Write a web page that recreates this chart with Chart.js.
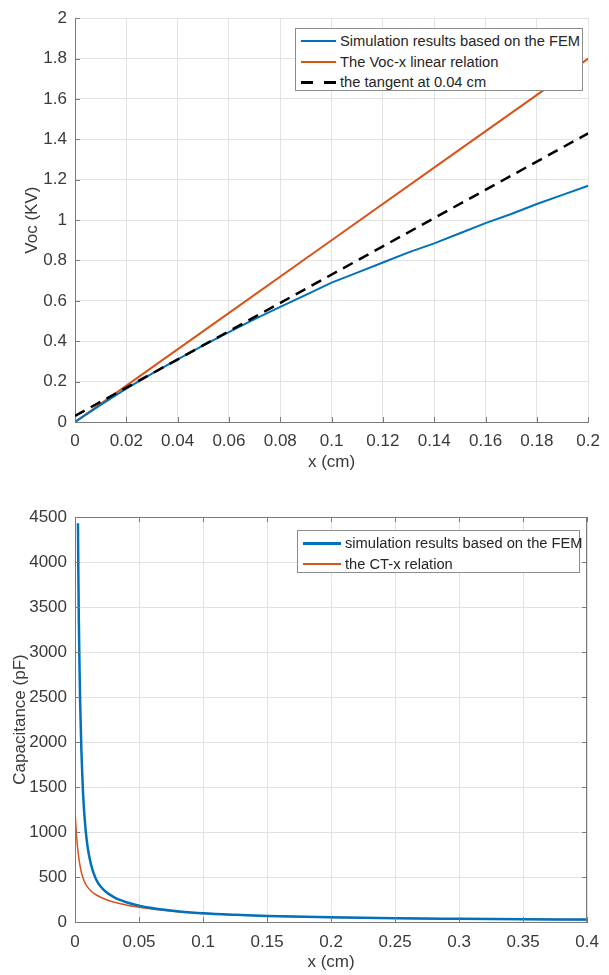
<!DOCTYPE html>
<html lang="en">
<head>
<meta charset="UTF-8">
<title>Voc and capacitance versus x</title>
<script src="https://cdn.jsdelivr.net/npm/chart.js@4.4.0/dist/chart.umd.min.js"></script>
<style>
    body {
        margin: 0;
        background: #fff;
        font-family: "Liberation Sans", Arial, sans-serif;
    }
    .wrap {
        position: relative;
        width: 609px;
        height: 975px;
    }
    canvas {
        position: absolute;
        left: 0;
    }
    #vocChart { top: 0; }
    #capChart { top: 490px; }
    .legend {
        position: absolute;
        box-sizing: border-box;
        background: #fff;
        border: 1px solid #8c8c8c;
        font-size: 14.7px;
        color: #262626;
        padding-top: 2px;
    }
    .legend .row {
        display: flex;
        align-items: center;
        height: 20.5px;
        white-space: nowrap;
    }
    .legend .swatch {
        flex: none;
        height: 2.5px;
        margin-right: 4px;
    }
    #vocLegend { left: 295px; top: 28px; width: 288px; height: 63px; }
    #capLegend { left: 297px; top: 530px; width: 283px; height: 43px; }
</style>
</head>
<body>
<div class="wrap">
    <canvas id="vocChart" width="609" height="480"></canvas>
    <canvas id="capChart" width="609" height="485"></canvas>
    <div id="vocLegend" class="legend"></div>
    <div id="capLegend" class="legend"></div>
</div>

<script>
    // ---- données : Voc en fonction de x ----
    const femX = [0, 0.01, 0.02, 0.03, 0.04, 0.05, 0.06, 0.07, 0.08, 0.09, 0.1,
                  0.11, 0.12, 0.13, 0.14, 0.15, 0.16, 0.17, 0.18, 0.19, 0.2];
    const femVoc = [0, 0.085, 0.165, 0.24, 0.31, 0.38, 0.445, 0.51, 0.57, 0.63, 0.69,
                    0.74, 0.79, 0.84, 0.885, 0.935, 0.985, 1.03, 1.08, 1.125, 1.17];
    const linX = [0, 0.05, 0.1, 0.15, 0.2];
    const linVoc = [0, 0.45, 0.9, 1.35, 1.8];
    const tanX = [0, 0.2];
    const tanVoc = [0.03, 1.43];

    // ---- données : capacité en fonction de x ----
    const capFemX = [0.0023, 0.0026, 0.003, 0.0035, 0.004, 0.005, 0.006, 0.007, 0.008, 0.009,
                     0.01, 0.012, 0.014, 0.016, 0.018, 0.02, 0.025, 0.03, 0.035, 0.04,
                     0.05, 0.06, 0.07, 0.08, 0.1, 0.125, 0.15, 0.2, 0.25, 0.3, 0.35, 0.4];
    const capFem = [4430, 3900, 3350, 2850, 2450, 1900, 1520, 1260, 1070, 930,
                    820, 670, 565, 490, 435, 395, 325, 280, 245, 220,
                    182, 155, 135, 120, 97, 80, 68, 52, 42, 36, 31, 27];
    const ctX = [0, 0.001, 0.002, 0.003, 0.004, 0.005, 0.0065, 0.008, 0.01, 0.0125,
                 0.015, 0.02, 0.025, 0.03, 0.04, 0.05, 0.06, 0.08, 0.1, 0.125,
                 0.15, 0.2, 0.25, 0.3, 0.35, 0.4];
    const ctCap = [1230, 1000, 830, 710, 620, 550, 480, 430, 385, 345,
                   315, 275, 245, 222, 188, 164, 144, 114, 95, 78,
                   66, 51, 41, 35, 30, 26];

    const BLUE = '#0072BD';
    const ORANGE = '#D95319';
    const AXIS = '#7a7a7a';
    const GRID = '#e2e2e2';
    const TEXT = '#3a3a3a';
    const FONT = '"Liberation Sans", Arial, sans-serif';

    const pts = (xs, ys) => xs.map((x, i) => ({x: x, y: ys[i]}));
    const fmt = v => String(+v.toFixed(4));

    // ticks vers l'intérieur (style MATLAB) + cadre optionnel
    const inwardTicks = {
        id: 'inwardTicks',
        afterDraw(chart, args, opts) {
            const {ctx, chartArea: a, scales} = chart;
            const len = 5;
            ctx.save();
            ctx.strokeStyle = AXIS;
            ctx.lineWidth = 1;
            ctx.beginPath();
            scales.x.ticks.forEach(t => {
                const px = Math.round(scales.x.getPixelForValue(t.value)) + 0.5;
                ctx.moveTo(px, a.bottom); ctx.lineTo(px, a.bottom - len);
                if (opts.box) { ctx.moveTo(px, a.top); ctx.lineTo(px, a.top + len); }
            });
            scales.y.ticks.forEach(t => {
                const py = Math.round(scales.y.getPixelForValue(t.value)) + 0.5;
                ctx.moveTo(a.left, py); ctx.lineTo(a.left + len, py);
                if (opts.box) { ctx.moveTo(a.right, py); ctx.lineTo(a.right - len, py); }
            });
            if (opts.box) {
                ctx.moveTo(a.left, Math.round(a.top) + 0.5);
                ctx.lineTo(a.right, Math.round(a.top) + 0.5);
                ctx.moveTo(Math.round(a.right) - 0.5, a.top);
                ctx.lineTo(Math.round(a.right) - 0.5, a.bottom);
            }
            ctx.stroke();
            ctx.restore();
        }
    };

    function makeChart(id, cfg) {
        return new Chart(document.getElementById(id), {
            type: 'scatter',
            data: {datasets: cfg.datasets},
            options: {
                responsive: false,
                animation: false,
                devicePixelRatio: 1,
                layout: {padding: {top: cfg.padTop, right: 12, left: 0, bottom: 0}},
                elements: {point: {radius: 0, hoverRadius: 0}},
                plugins: {
                    legend: {display: false},
                    tooltip: {enabled: false},
                    inwardTicks: {box: cfg.box}
                },
                scales: {
                    x: {
                        type: 'linear',
                        min: cfg.xMin, max: cfg.xMax,
                        afterFit: s => { s.height = cfg.xHeight; },
                        ticks: {stepSize: cfg.xStep, padding: cfg.xPad, color: TEXT,
                                font: {family: FONT, size: 17}, callback: fmt, maxRotation: 0},
                        grid: {color: GRID, drawTicks: false},
                        border: {color: AXIS},
                        title: {display: true, text: 'x (cm)', color: TEXT,
                                font: {family: FONT, size: 17}, padding: {top: 0, bottom: cfg.xTitlePad}}
                    },
                    y: {
                        type: 'linear',
                        min: cfg.yMin, max: cfg.yMax,
                        afterFit: s => { s.width = 75; },
                        ticks: {stepSize: cfg.yStep, padding: 8, color: TEXT,
                                font: {family: FONT, size: 17}, callback: fmt},
                        grid: {color: GRID, drawTicks: false},
                        border: {color: AXIS},
                        title: {display: true, text: cfg.yTitle, color: TEXT,
                                font: {family: FONT, size: 17}, padding: {top: cfg.yTitlePad, bottom: 0}}
                    }
                }
            },
            plugins: [inwardTicks]
        });
    }

    const vocChart = makeChart('vocChart', {
        padTop: 12, box: false,
        xMin: 0, xMax: 0.2, xStep: 0.02, xHeight: 58, xPad: 9, xTitlePad: 7,
        yMin: 0, yMax: 2, yStep: 0.2, yTitle: 'Voc (KV)', yTitlePad: 22,
        datasets: [
            {label: 'Simulation results based on the FEM', data: pts(femX, femVoc),
             showLine: true, borderColor: BLUE, borderWidth: 2, order: 1},
            {label: 'The Voc-x linear relation', data: pts(linX, linVoc),
             showLine: true, borderColor: ORANGE, borderWidth: 2, order: 2},
            {label: 'the tangent at 0.04 cm', data: pts(tanX, tanVoc),
             showLine: true, borderColor: '#000', borderWidth: 2.5, borderDash: [11, 7], order: 0}
        ]
    });

    const capChart = makeChart('capChart', {
        padTop: 27, box: true,
        xMin: 0, xMax: 0.4, xStep: 0.05, xHeight: 53, xPad: 10, xTitlePad: 2,
        yMin: 0, yMax: 4500, yStep: 500, yTitle: 'Capacitance (pF)', yTitlePad: 10,
        datasets: [
            {label: 'simulation results based on the FEM', data: pts(capFemX, capFem),
             showLine: true, borderColor: BLUE, borderWidth: 2.5,
             cubicInterpolationMode: 'monotone', order: 0},
            {label: 'the CT-x relation', data: pts(ctX, ctCap),
             showLine: true, borderColor: ORANGE, borderWidth: 1.5,
             cubicInterpolationMode: 'monotone', order: 1}
        ]
    });

    // légende HTML placée dans la zone du graphique
    function buildLegend(chart, id, swatchW) {
        const box = document.getElementById(id);
        chart.data.datasets.forEach(ds => {
            const row = document.createElement('div');
            row.className = 'row';
            const sw = document.createElement('span');
            sw.className = 'swatch';
            sw.style.width = swatchW + 'px';
            sw.style.marginLeft = '5px';
            if (ds.borderDash) {
                sw.style.background = 'linear-gradient(to right, ' + ds.borderColor + ' 0 12px, transparent 12px 23px, ' +
                    ds.borderColor + ' 23px ' + swatchW + 'px)';
                sw.style.height = '3px';
            } else {
                sw.style.background = ds.borderColor;
                sw.style.height = ds.borderWidth + 'px';
            }
            const txt = document.createElement('span');
            txt.textContent = ds.label;
            row.appendChild(sw);
            row.appendChild(txt);
            box.appendChild(row);
        });
    }
    buildLegend(vocChart, 'vocLegend', 35);
    buildLegend(capChart, 'capLegend', 38);
</script>
</body>
</html>
